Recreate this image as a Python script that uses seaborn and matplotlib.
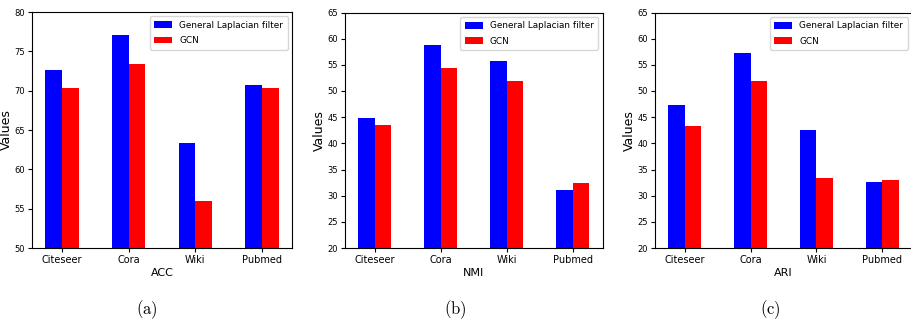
import matplotlib
matplotlib.use("Agg")
import matplotlib.pyplot as plt
import seaborn as sns
import pandas as pd

datasets = ["Citeseer", "Cora", "Wiki", "Pubmed"]
methods = ["General Laplacian filter", "GCN"]
acc_glf = [72.6, 77.1, 63.4, 70.7]
acc_gcn = [70.4, 73.4, 56.0, 70.4]
nmi_glf = [44.9, 58.8, 55.8, 31.1]
nmi_gcn = [43.5, 54.4, 51.9, 32.5]
ari_glf = [47.4, 57.3, 42.6, 32.7]
ari_gcn = [43.3, 51.9, 33.4, 32.9]
metric_names = ["ACC", "NMI", "ARI"]
ylims = [(50, 80), (20, 65), (20, 65)]
captions = ["(a)", "(b)", "(c)"]

plt.rcParams["font.family"] = ["DejaVu Sans"]
plt.rcParams["mathtext.fontset"] = "cm"

fig = plt.figure(figsize=(9.11, 3.23), dpi=100)
W, H = 911, 323
boxes = [(32, 12, 292, 248), (345, 12.5, 602.5, 248), (655, 12.5, 912, 248)]
cap_x = [147, 455, 770]
colors = {"General Laplacian filter": "blue", "GCN": "red"}

series = [(acc_glf, acc_gcn), (nmi_glf, nmi_gcn), (ari_glf, ari_gcn)]
for i, (b, (glf, gcn)) in enumerate(zip(boxes, series)):
    x0, y0, x1, y1 = b
    ax = fig.add_axes([x0 / W, 1 - y1 / H, (x1 - x0) / W, (y1 - y0) / H])
    df = pd.DataFrame({
        "dataset": datasets * 2,
        "method": [methods[0]] * 4 + [methods[1]] * 4,
        "value": glf + gcn,
    })
    sns.barplot(data=df, x="dataset", y="value", hue="method", order=datasets,
                hue_order=methods, palette=colors, saturation=1, width=0.5,
                errorbar=None, ax=ax)
    ax.set_xlim(-0.45, 3.45)
    ax.set_ylim(*ylims[i])
    ax.set_ylabel("Values", fontsize=9, labelpad=1)
    ax.set_xlabel(metric_names[i], fontsize=8, labelpad=2)
    ax.tick_params(axis="y", labelsize=6, length=3, pad=2)
    ax.tick_params(axis="x", labelsize=7, length=3, pad=2)
    for s in ax.spines.values():
        s.set_visible(True)
        s.set_color("black")
        s.set_linewidth(0.8)
    ax.legend(loc="upper right", fontsize=6.4, frameon=True, handlelength=2.0,
              handleheight=0.8, borderpad=0.5, labelspacing=0.7)
    fig.text(cap_x[i] / W, 1 - 310 / H, r"$\mathrm{" + captions[i] + "}$", ha="center",
             va="center", fontsize=12)

fig.savefig("out.png", dpi=100)
